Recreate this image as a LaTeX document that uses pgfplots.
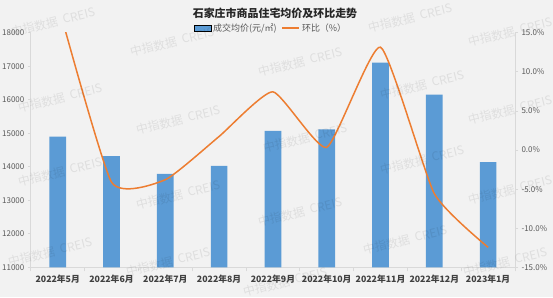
\documentclass[border=0pt]{standalone}
\usepackage{pgfplots}
\pgfplotsset{compat=1.18}
\usepackage{fontspec}
\setmainfont{Noto Sans CJK SC}
\definecolor{barblue}{HTML}{5B9BD5}
\definecolor{lineorange}{HTML}{ED7D31}
\definecolor{axgrey}{HTML}{D9D9D9}
\definecolor{ticktext}{HTML}{595959}
\definecolor{bg}{HTML}{F2F2F2}
\definecolor{xlab}{HTML}{404040}
\definecolor{titlecol}{HTML}{262626}
\begin{document}
\begin{tikzpicture}[x=1bp,y=1bp]
\fill[bg] (0,0) rectangle (553,297);
\path[use as bounding box] (0,0) rectangle (553,297);
\begin{axis}[
  at={(30.8bp,29.7bp)}, anchor=south west, scale only axis,
  width=484.2bp, height=234.6bp,
  xmin=-0.5, xmax=8.5, ymin=11000, ymax=18000,
  ybar, bar width=16.7bp,
  axis x line*=bottom, axis y line*=left,
  axis line style={axgrey, line width=0.8bp},
  xtick={0,...,8},
  xticklabels={2022年5月,2022年6月,2022年7月,2022年8月,2022年9月,2022年10月,2022年11月,2022年12月,2023年1月},
  major x tick style={draw=none},
  minor xtick={-0.5,0.5,...,8.5},
  minor x tick style={axgrey, line width=0.8bp},
  minor tick length=4bp,
  ytick={11000,12000,...,18000},
  scaled y ticks=false,
  major tick length=3bp,
  tick align=outside,
  ytick style={axgrey, line width=0.8bp},
  /pgf/number format/assume math mode=true,
  /pgf/number format/1000 sep={},
  yticklabel style={font=\fontsize{8}{9}\selectfont, text=ticktext},
  xticklabel style={font=\bfseries\fontsize{8.8}{10}\selectfont, text=xlab, yshift=-1bp},
]
\addplot[fill=barblue, draw=none] coordinates {
  (0,14897) (1,14321) (2,13784) (3,14023) (4,15067) (5,15118) (6,17106) (7,16151) (8,14142)
};
\end{axis}
\begin{axis}[
  at={(30.8bp,29.7bp)}, anchor=south west, scale only axis,
  width=484.2bp, height=234.6bp,
  xmin=-0.5, xmax=8.5, ymin=-15, ymax=15,
  axis x line=none, axis y line*=right,
  axis line style={axgrey, line width=0.8bp},
  ytick={-15,-10,...,15},
  major tick length=3bp,
  tick align=outside,
  ytick style={axgrey, line width=0.8bp},
  /pgf/number format/assume math mode=true,
  yticklabel={\pgfmathprintnumber[fixed,fixed zerofill,precision=1]{\tick}\%},
  yticklabel style={font=\fontsize{8}{9}\selectfont, text=ticktext},
  legend style={at={(0.496,1.02)}, anchor=center, draw=none, fill=none,
    font=\fontsize{9}{10}\selectfont, text=ticktext, legend columns=2,
    /tikz/every even column/.append style={column sep=3bp}},
]
\addlegendimage{area legend, fill=barblue, draw=none}
\addlegendentry{成交均价(元/㎡)}
\addplot[lineorange, line width=1.5bp, smooth, tension=0.3] coordinates {
  (0,18.8) (1,-4.1) (2,-3.8) (3,1.73) (4,7.44) (5,0.34) (6,13.15) (7,-5.58) (8,-12.44)
};
\addlegendentry{环比（\%）}
\end{axis}
\node[font=\bfseries\fontsize{11}{13}\selectfont, text=titlecol] at (275,284) {石家庄市商品住宅均价及环比走势};
\foreach \x/\y in {53/22, 172/42, 410/18, 510/32,
                   60/98, 178/120, 300/62, 422/85, 510/110,
                   60/172, 178/195, 305/138, 422/160, 510/190,
                   50/252, 168/262, 300/212, 405/240, 505/262, 285/282}{
  \node[rotate=14, text=black, opacity=0.08, font=\fontsize{12}{12}\selectfont] at (\x,297-\y) {中指数据\ \ CREIS};
}
\end{tikzpicture}
\end{document}
